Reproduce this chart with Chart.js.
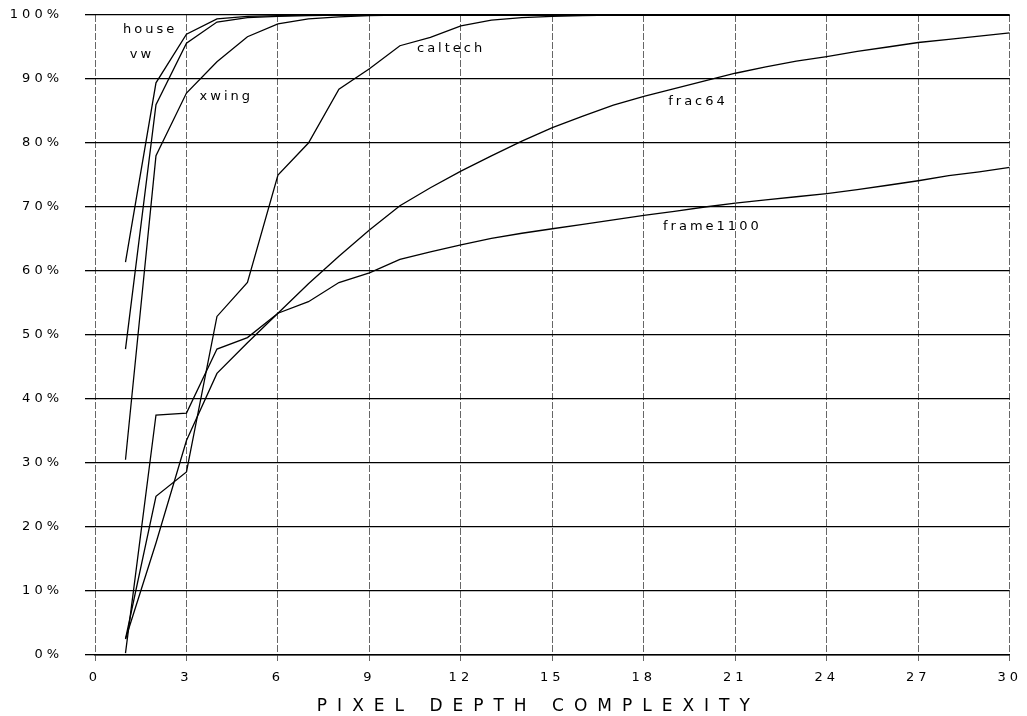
<!DOCTYPE html>
<html>
<head>
<meta charset="utf-8">
<script src="https://cdn.jsdelivr.net/npm/chart.js@4.4.0/dist/chart.umd.min.js"></script>
<style>
  html, body { margin: 0; padding: 0; background: #fff; }
</style>
</head>
<body>
<canvas id="chart" width="1027" height="716"></canvas>
<script>
// pixel depth complexity 1..30
const depth = [1, 2, 3, 4, 5, 6, 7, 8, 9, 10, 11, 12, 13, 14, 15,
               16, 17, 18, 19, 20, 21, 22, 23, 24, 25, 26, 27, 28, 29, 30];

// cumulative % of pixels
const house = [61.4, 89.4, 97.0, 99.4, 99.8, 99.9, 100, 100, 100, 100, 100, 100, 100, 100, 100,
               100, 100, 100, 100, 100, 100, 100, 100, 100, 100, 100, 100, 100, 100, 100];
const vw = [47.8, 86.0, 95.6, 98.9, 99.6, 99.8, 99.9, 100, 100, 100, 100, 100, 100, 100, 100,
            100, 100, 100, 100, 100, 100, 100, 100, 100, 100, 100, 100, 100, 100, 100];
const xwing = [30.5, 78.0, 87.8, 92.7, 96.6, 98.6, 99.4, 99.7, 99.9, 100, 100, 100, 100, 100, 100,
               100, 100, 100, 100, 100, 100, 100, 100, 100, 100, 100, 100, 100, 100, 100];
const caltech = [2.5, 24.8, 28.6, 52.9, 58.2, 75.0, 80.0, 88.4, 91.6, 95.2, 96.5, 98.3, 99.2, 99.6, 99.8,
                 99.9, 100, 100, 100, 100, 100, 100, 100, 100, 100, 100, 100, 100, 100, 100];
const frac64 = [2.5, 17.5, 33.5, 44.0, 48.8, 53.4, 58.0, 62.3, 66.4, 70.2, 73.0, 75.6, 78.0, 80.3, 82.4,
                84.2, 85.9, 87.3, 88.5, 89.7, 90.9, 91.9, 92.8, 93.5, 94.3, 95.0, 95.7, 96.2, 96.7, 97.2];
const frame1100 = [0.3, 37.5, 37.8, 47.8, 49.6, 53.4, 55.2, 58.2, 59.7, 61.8, 63.0, 64.1, 65.1, 65.9, 66.6,
                   67.3, 68.0, 68.7, 69.3, 70.0, 70.6, 71.1, 71.6, 72.1, 72.7, 73.4, 74.1, 74.9, 75.5, 76.2];

const seriesNames = ["house", "vw", "xwing", "caltech", "frac64", "frame1100"];
const seriesValues = [house, vw, xwing, caltech, frac64, frame1100];

// where each curve's name sits (data coords: depth, percent)
const labelDepth = [0.92, 1.14, 3.43, 10.56, 18.8, 18.63];
const labelPct = [97.7, 93.8, 87.2, 94.8, 86.4, 66.9];

const xTicksStep = 3;
const yTicksStep = 10;
const axisTitle = "PIXEL DEPTH COMPLEXITY";

const FONT = '"DejaVu Sans", sans-serif';

const datasets = seriesNames.map((name, i) => ({
    label: name,
    data: depth.map((d, j) => ({ x: d, y: seriesValues[i][j] })),
    borderColor: "#000",
    borderWidth: 1.3,
    pointRadius: 0,
    fill: false,
    tension: 0,
}));

// spacing tick text like the old plotter font
const spacingPlugin = {
    id: "spacing",
    beforeDraw(chart) {
        chart.ctx.letterSpacing = "4px";
    },
};

// curve names + axis title
const labelsPlugin = {
    id: "curveLabels",
    afterDraw(chart) {
        const ctx = chart.ctx;
        const xs = chart.scales.x;
        const ys = chart.scales.y;
        ctx.save();
        ctx.fillStyle = "#000";
        ctx.font = "13px " + FONT;
        ctx.letterSpacing = "3px";
        ctx.textAlign = "left";
        ctx.textBaseline = "middle";
        seriesNames.forEach((name, i) => {
            ctx.fillText(name, xs.getPixelForValue(labelDepth[i]), ys.getPixelForValue(labelPct[i]));
        });

        ctx.font = "17px " + FONT;
        ctx.letterSpacing = "10px";
        ctx.textAlign = "center";
        const area = chart.chartArea;
        ctx.fillText(axisTitle, (area.left + area.right) / 2 - 14, chart.height - 9);
        ctx.restore();
    },
};

new Chart(document.getElementById("chart"), {
    type: "line",
    data: { datasets },
    options: {
        responsive: false,
        animation: false,
        layout: { padding: { top: 15, right: 14, left: 0, bottom: 0 } },
        plugins: {
            legend: { display: false },
            tooltip: { enabled: false },
        },
        scales: {
            x: {
                type: "linear",
                min: 0,
                max: 30,
                ticks: {
                    stepSize: xTicksStep,
                    color: "#000",
                    font: { family: FONT, size: 13 },
                    padding: 9,
                    maxRotation: 0,
                },
                grid: {
                    color: "#666",
                    lineWidth: 1,
                    tickLength: 6,
                    tickColor: "#666",
                },
                border: { display: true, color: "#000", width: 1.4, dash: [7, 2] },
                afterFit(scale) {
                    scale.height = 61;
                },
            },
            y: {
                min: 0,
                max: 100,
                ticks: {
                    stepSize: yTicksStep,
                    color: "#000",
                    font: { family: FONT, size: 13 },
                    padding: 22,
                    callback: (v) => v + "%",
                },
                grid: {
                    color: "#000",
                    lineWidth: 1.3,
                    tickLength: 10,
                    tickColor: "#000",
                },
                border: { display: false },
                afterFit(scale) {
                    scale.width = 95;
                    // tick padding would otherwise push the plot down
                    scale.paddingTop = 0;
                    scale.paddingBottom = 0;
                },
            },
        },
    },
    plugins: [spacingPlugin, labelsPlugin],
});
</script>
</body>
</html>
